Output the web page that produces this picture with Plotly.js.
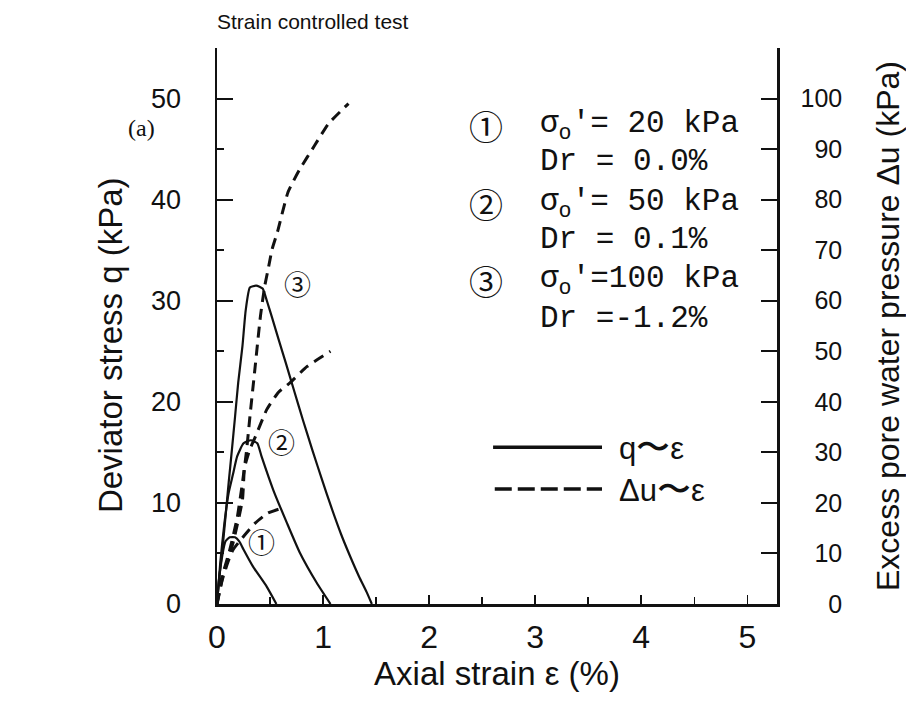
<!DOCTYPE html>
<html>
<head>
<meta charset="utf-8">
<script src="https://cdn.plot.ly/plotly-3.0.1.min.js"></script>
<style>
  html, body { margin: 0; padding: 0; background: #fff; }
  #chart { width: 906px; height: 704px; }
</style>
</head>
<body>
<div id="chart"></div>
<script>
// Deviator stress q (kPa) against axial strain (%) for three confining pressures
const strain1 = [0, 0.02, 0.05, 0.08, 0.12, 0.17, 0.21, 0.25, 0.34, 0.47, 0.56];
const q1      = [0, 2.5, 4.8, 6.2, 6.6, 6.6, 6.2, 5.4, 3.7, 1.7, 0];

const strain2 = [0, 0.03, 0.07, 0.11, 0.15, 0.19, 0.25, 0.32, 0.38, 0.42, 0.53, 0.66, 0.78, 0.94, 1.07];
const q2      = [0, 4, 8, 11, 12.8, 14.6, 15.9, 16.2, 15.9, 14.6, 11.3, 8.0, 5.1, 2.1, 0];

const strain3 = [0, 0.02, 0.05, 0.08, 0.11, 0.14, 0.17, 0.20, 0.24, 0.27, 0.31, 0.37, 0.43, 0.47, 0.52, 0.58, 0.65, 0.73, 0.81, 0.90, 0.99, 1.08, 1.17, 1.26, 1.34, 1.41, 1.46];
const q3      = [0, 2.5, 5.3, 8.6, 12.0, 15.2, 18.5, 21.9, 25.5, 29.0, 31.3, 31.5, 31.2, 30.0, 28.3, 26.2, 23.8, 21.0, 18.2, 15.2, 12.3, 9.5, 6.9, 4.6, 2.7, 1.2, 0];

// Excess pore water pressure du (kPa) against axial strain (%)
const strainU1 = [0, 0.03, 0.05, 0.10, 0.15, 0.24, 0.36, 0.48, 0.62];
const du1      = [0, 3, 4.8, 8.1, 10.7, 13.1, 16, 18, 19];

const strainU2 = [0, 0.06, 0.15, 0.24, 0.26, 0.31, 0.36, 0.47, 0.58, 0.69, 0.85, 1.07];
const du2      = [0, 6, 12, 20.6, 27, 30.6, 33, 38.5, 41.9, 43.8, 47, 50];

const strainU3 = [0, 0.03, 0.12, 0.19, 0.24, 0.28, 0.31, 0.36, 0.41, 0.45, 0.48, 0.52, 0.57, 0.67, 0.78, 0.92, 1.05, 1.24];
const du3      = [0, 4, 10.7, 17, 24, 30.6, 37, 47, 57, 62.9, 66, 70.2, 73.6, 81.5, 86, 90.7, 95, 99];

// Axis ticks
const xTicks = [0, 1, 2, 3, 4, 5];
const qTicks = [0, 10, 20, 30, 40, 50];
const duTicks = [0, 10, 20, 30, 40, 50, 60, 70, 80, 90, 100];
const duTickText = ['\u2007\u20070', '\u200710', '\u200720', '\u200730', '\u200740', '\u200750',
                    '\u200760', '\u200770', '\u200780', '\u200790', '100'];

// Test conditions
const caseMarks = ['\u2460', '\u2461', '\u2462'];
const sigmaLines = ['\u03c3<sub>o</sub>\u2032= 20 kPa', '\u03c3<sub>o</sub>\u2032= 50 kPa', '\u03c3<sub>o</sub>\u2032=100 kPa'];
const drLines = ['Dr = 0.0%', 'Dr = 0.1%', 'Dr =-1.2%'];
const markStrain = [0.42, 0.61, 0.76];
const markQ = [6.2, 16.1, 31.7];

const BLACK = '#111';
const sans = 'Liberation Sans, Arial, sans-serif';
const mono = 'Liberation Mono, DejaVu Sans Mono, monospace';
const cjk = 'Noto Sans CJK JP, Noto Sans CJK SC, DejaVu Sans, sans-serif';

const solid = {color: BLACK, width: 2.2, shape: 'spline', smoothing: 0.5};
const dashed = {color: BLACK, width: 3, dash: '11px,7px', shape: 'spline', smoothing: 0.5};

const traces = [
  {x: strain1, y: q1, mode: 'lines', line: solid},
  {x: strain2, y: q2, mode: 'lines', line: solid},
  {x: strain3, y: q3, mode: 'lines', line: solid},
  {x: strainU1, y: du1, yaxis: 'y2', mode: 'lines', line: dashed},
  {x: strainU2, y: du2, yaxis: 'y2', mode: 'lines', line: dashed},
  {x: strainU3, y: du3, yaxis: 'y2', mode: 'lines', line: dashed}
];

const annotations = [];
function note(opts) {
  annotations.push(Object.assign({showarrow: false, xanchor: 'center', yanchor: 'middle'}, opts));
}
// circled case numbers beside the curves
for (let i = 0; i < 3; i++) {
  note({x: markStrain[i], y: markQ[i], xref: 'x', yref: 'y', text: caseMarks[i],
        font: {family: cjk, size: 27, color: BLACK}});
}
// condition block
const rowY = [0.860, 0.795, 0.720, 0.656, 0.581, 0.513];
for (let i = 0; i < 3; i++) {
  note({x: 0.480, y: rowY[2 * i], xref: 'paper', yref: 'paper', text: caseMarks[i],
        font: {family: cjk, size: 34, color: BLACK}});
  note({x: 0.573, y: rowY[2 * i], xref: 'paper', yref: 'paper', xanchor: 'left',
        text: sigmaLines[i], font: {family: mono, size: 31, color: BLACK}});
  note({x: 0.573, y: rowY[2 * i + 1], xref: 'paper', yref: 'paper', xanchor: 'left',
        text: drLines[i], font: {family: mono, size: 31, color: BLACK}});
}
// line key
const wave = '<span style="font-size:34px">\u301c</span>';
note({x: 0.714, y: 0.282, xref: 'paper', yref: 'paper', xanchor: 'left',
      text: 'q' + wave + '\u03b5', font: {family: sans, size: 31, color: BLACK}});
note({x: 0.714, y: 0.207, xref: 'paper', yref: 'paper', xanchor: 'left',
      text: '\u0394u' + wave + '\u03b5', font: {family: sans, size: 31, color: BLACK}});
// panel label
note({x: -0.134, y: 0.856, xref: 'paper', yref: 'paper',
      text: '(a)', font: {family: 'Liberation Serif, serif', size: 24, color: BLACK}});
// left axis title
note({x: -0.189, y: 0.466, xref: 'paper', yref: 'paper', textangle: -90,
      text: 'Deviator stress q (kPa)', font: {family: sans, size: 33, color: BLACK}});

const shapes = [
  {type: 'line', xref: 'paper', yref: 'paper', x0: 0.493, x1: 0.6875, y0: 0.282, y1: 0.282,
   line: {color: BLACK, width: 3.5}},
  {type: 'line', xref: 'paper', yref: 'paper', x0: 0.496, x1: 0.6875, y0: 0.207, y1: 0.207,
   line: {color: BLACK, width: 3.5, dash: '17px,6px'}}
];

const layout = {
  width: 906, height: 704,
  margin: {l: 217, r: 129, t: 48, b: 100},
  paper_bgcolor: '#fff', plot_bgcolor: '#fff',
  showlegend: false,
  title: {text: 'Strain controlled test', xref: 'paper', x: 0, xanchor: 'left',
          yref: 'container', y: 0.969, yanchor: 'middle',
          font: {family: sans, size: 21, color: BLACK}},
  xaxis: {
    range: [0, 5.28], showgrid: false, zeroline: false,
    showline: true, linecolor: BLACK, linewidth: 2.5,
    tickvals: xTicks, ticks: 'inside', ticklen: 9, tickwidth: 1.5, tickcolor: BLACK,
    minor: {dtick: 0.5, ticks: 'inside', ticklen: 7, tickwidth: 1.5, tickcolor: BLACK},
    ticklabelstandoff: 3,
    tickfont: {family: sans, size: 32, color: BLACK},
    title: {text: 'Axial strain \u03b5 (%)', standoff: 8, font: {family: sans, size: 33, color: BLACK}}
  },
  yaxis: {
    range: [0, 55], showgrid: false, zeroline: false,
    showline: true, linecolor: BLACK, linewidth: 2.5,
    tickvals: qTicks, ticks: 'inside', ticklen: 16, tickwidth: 2, tickcolor: BLACK,
    minor: {dtick: 5, ticks: 'inside', ticklen: 7, tickwidth: 2, tickcolor: BLACK},
    ticklabelstandoff: 28,
    tickfont: {family: sans, size: 27, color: BLACK}
  },
  yaxis2: {
    range: [0, 110], overlaying: 'y', side: 'right', showgrid: false, zeroline: false,
    showline: true, linecolor: BLACK, linewidth: 2.5,
    tickvals: duTicks, ticktext: duTickText,
    ticks: 'inside', ticklen: 16, tickwidth: 2, tickcolor: BLACK,
    minor: {dtick: 10, ticks: 'inside', ticklen: 16, tickwidth: 2, tickcolor: BLACK},
    ticklabelstandoff: 16,
    tickfont: {family: sans, size: 25, color: BLACK},
    title: {text: 'Excess pore water pressure \u0394u (kPa)', standoff: 40, font: {family: sans, size: 32, color: BLACK}}
  },
  annotations: annotations,
  shapes: shapes
};

Plotly.newPlot('chart', traces, layout, {staticPlot: true, displayModeBar: false});
</script>
</body>
</html>
